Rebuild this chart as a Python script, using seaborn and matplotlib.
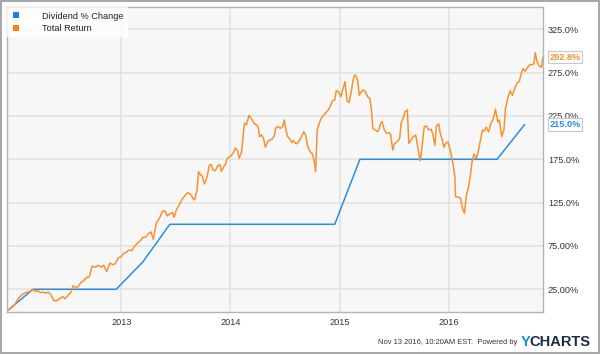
import datetime as dt
import matplotlib
matplotlib.use("Agg")
import matplotlib.pyplot as plt
import pandas as pd
import seaborn as sns
from matplotlib.lines import Line2D

# ---------------- data ----------------
div_years = [2011.956, 2012.194, 2012.954, 2013.200, 2013.445,
             2014.956, 2015.187, 2016.442, 2016.694]
div_values = [0.0, 25.0, 25.0, 56.9, 100.0, 100.0, 175.0, 175.0, 215.0]

tr_years = [
    2011.956, 2011.991, 2012.026, 2012.061, 2012.089, 2012.124, 2012.159, 2012.194,
    2012.218, 2012.236, 2012.264, 2012.289, 2012.313, 2012.334, 2012.359, 2012.383,
    2012.411, 2012.439, 2012.464, 2012.488, 2012.516, 2012.544, 2012.558, 2012.586,
    2012.608, 2012.629, 2012.657, 2012.685, 2012.709, 2012.734, 2012.762, 2012.790,
    2012.814, 2012.839, 2012.867, 2012.895, 2012.923, 2012.944, 2012.972, 2013.000,
    2013.021, 2013.042, 2013.070, 2013.098, 2013.119, 2013.147, 2013.175, 2013.200,
    2013.224, 2013.252, 2013.273, 2013.294, 2013.322, 2013.350, 2013.375, 2013.400,
    2013.421, 2013.445, 2013.470, 2013.484, 2013.505, 2013.533, 2013.561, 2013.589,
    2013.610, 2013.638, 2013.659, 2013.673, 2013.694, 2013.708, 2013.726, 2013.743,
    2013.761, 2013.778, 2013.792, 2013.806, 2013.824, 2013.841, 2013.862, 2013.883,
    2013.904, 2013.918, 2013.936, 2013.953, 2013.974, 2014.006, 2014.031, 2014.045,
    2014.066, 2014.080, 2014.101, 2014.129, 2014.146, 2014.171, 2014.199, 2014.220,
    2014.241, 2014.255, 2014.269, 2014.286, 2014.304, 2014.321, 2014.339, 2014.360,
    2014.381, 2014.402, 2014.416, 2014.437, 2014.458, 2014.479, 2014.493, 2014.507,
    2014.521, 2014.542, 2014.563, 2014.577, 2014.602, 2014.626, 2014.654, 2014.672,
    2014.689, 2014.710, 2014.731, 2014.752, 2014.766, 2014.781, 2014.795, 2014.816,
    2014.837, 2014.865, 2014.893, 2014.914, 2014.935, 2014.956, 2014.970, 2014.991,
    2015.012, 2015.033, 2015.050, 2015.068, 2015.089, 2015.110, 2015.131, 2015.145,
    2015.166, 2015.180, 2015.198, 2015.215, 2015.236, 2015.257, 2015.278, 2015.292,
    2015.306, 2015.327, 2015.348, 2015.362, 2015.376, 2015.390, 2015.411, 2015.432,
    2015.453, 2015.467, 2015.488, 2015.502, 2015.530, 2015.551, 2015.565, 2015.586,
    2015.600, 2015.621, 2015.635, 2015.656, 2015.677, 2015.698, 2015.719, 2015.740,
    2015.758, 2015.776, 2015.797, 2015.818, 2015.839, 2015.853, 2015.874, 2015.888,
    2015.909, 2015.923, 2015.937, 2015.958, 2015.972, 2015.993, 2016.014, 2016.039,
    2016.056, 2016.063, 2016.091, 2016.109, 2016.126, 2016.144, 2016.162, 2016.179,
    2016.197, 2016.214, 2016.232, 2016.253, 2016.267, 2016.288, 2016.309, 2016.323,
    2016.344, 2016.365, 2016.386, 2016.407, 2016.428, 2016.449, 2016.463, 2016.484,
    2016.505, 2016.519, 2016.540, 2016.561, 2016.582, 2016.603, 2016.624, 2016.645,
    2016.666, 2016.680, 2016.701, 2016.722, 2016.743, 2016.764, 2016.778, 2016.792,
    2016.806, 2016.827, 2016.848, 2016.862,
]
tr_values = [
    0.0, 3.1, 6.9, 14.6, 18.4, 21.1, 22.3, 25.0,
    22.3, 23.4, 21.1, 21.9, 20.4, 21.9, 18.4, 11.9,
    11.9, 14.2, 16.5, 14.2, 18.4, 22.3, 28.8, 27.3,
    28.1, 32.7, 35.0, 38.8, 39.6, 51.9, 50.4, 52.7,
    50.4, 52.7, 45.4, 55.0, 53.4, 54.2, 61.1, 62.7,
    66.5, 67.3, 70.4, 69.6, 74.2, 78.1, 81.1, 85.0,
    85.0, 89.6, 91.1, 82.7, 101.9, 106.9, 114.6, 115.7,
    109.6, 111.9, 113.4, 108.1, 116.5, 122.7, 129.6, 133.8,
    136.5, 134.2, 129.6, 128.1, 139.6, 160.7, 156.9, 155.7,
    146.5, 151.1, 158.1, 168.1, 168.8, 162.7, 161.9, 167.3,
    168.8, 161.1, 165.7, 168.8, 176.5, 178.8, 183.4, 188.1,
    185.0, 176.1, 182.7, 216.5, 214.6, 225.7, 220.4, 215.7,
    214.6, 211.9, 201.1, 203.1, 198.8, 188.8, 195.0, 197.3,
    198.1, 201.9, 211.1, 212.7, 210.7, 212.7, 220.4, 210.7,
    201.9, 198.8, 194.2, 196.5, 192.7, 195.0, 201.9, 206.9,
    202.7, 188.8, 183.8, 181.1, 174.2, 160.7, 208.8, 217.3,
    223.4, 227.3, 231.1, 235.7, 242.7, 243.4, 254.2, 252.7,
    247.3, 256.9, 264.6, 242.7, 240.4, 255.7, 270.4, 272.3,
    266.5, 248.8, 252.7, 255.0, 253.4, 247.3, 245.0, 231.9,
    210.7, 208.8, 206.9, 209.6, 216.5, 218.4, 208.8, 205.0,
    205.7, 204.2, 185.7, 192.7, 195.4, 199.2, 217.3, 223.4,
    230.0, 231.9, 193.4, 197.3, 201.1, 203.1, 187.3, 173.4,
    191.9, 212.7, 213.4, 208.8, 209.6, 205.0, 191.1, 213.4,
    215.7, 205.0, 199.2, 188.8, 193.4, 195.0, 185.7, 170.4,
    155.0, 131.9, 131.1, 130.0, 118.4, 112.7, 133.8, 141.5,
    155.0, 172.3, 181.1, 176.1, 181.9, 195.4, 208.8, 207.3,
    211.9, 206.5, 216.5, 221.1, 232.7, 218.0, 220.4, 201.1,
    208.8, 233.4, 245.4, 254.2, 248.8, 256.5, 262.7, 265.0,
    275.0, 279.6, 276.5, 281.1, 284.2, 284.2, 285.0, 298.0,
    287.7, 282.7, 281.1, 292.8,
]

series_names = ["Dividend % Change", "Total Return"]
y_ticks = [25, 75, 125, 175, 225, 275, 325]
y_tick_labels = ["25.00%", "75.00%", "125.0%", "175.0%", "225.0%", "275.0%", "325.0%"]
x_tick_years = [2013, 2014, 2015, 2016]
footer_text = "Nov 13 2016, 10:20AM EST.  Powered by"

BLUE = "#2b8ee0"
ORANGE = "#f7922e"


def to_dt(y):
    year = int(y)
    start = dt.datetime(year, 1, 1)
    end = dt.datetime(year + 1, 1, 1)
    return start + (end - start) * (y - year)


df = pd.concat([
    pd.DataFrame({"date": [to_dt(v) for v in div_years], "value": div_values,
                  "series": series_names[0]}),
    pd.DataFrame({"date": [to_dt(v) for v in tr_years], "value": tr_values,
                  "series": series_names[1]}),
], ignore_index=True)

sns.set_style("white")
plt.rcParams["font.family"] = ["Liberation Sans", "DejaVu Sans"]

fig = plt.figure(figsize=(6.0, 3.54), dpi=100, facecolor="white",
                 edgecolor="#a8a8a8", linewidth=1.5)
ax = fig.add_axes([7 / 600, 1 - 312 / 354, 536 / 600, 305 / 354])
ax.set_facecolor("#f7f7f7")

sns.lineplot(data=df, x="date", y="value", hue="series",
             palette={series_names[0]: BLUE, series_names[1]: ORANGE},
             linewidth=1.1, ax=ax, legend=False, estimator=None, sort=False)

ax.set_xlim(to_dt(tr_years[0]), to_dt(tr_years[-1]))
ax.set_ylim(-1.2, 350.7)

ax.set_xticks([dt.datetime(y, 1, 1) for y in x_tick_years])
ax.set_xticklabels([str(y) for y in x_tick_years])
ax.set_yticks(y_ticks)
ax.set_yticklabels(y_tick_labels)
ax.yaxis.tick_right()
ax.tick_params(axis="both", length=0, labelsize=6.6, colors="#333333")
ax.tick_params(axis="y", pad=3.5)
ax.tick_params(axis="x", pad=4)
ax.grid(True, color="#e2e2e2", linewidth=1.1)
ax.set_axisbelow(True)
ax.set_xlabel("")
ax.set_ylabel("")
for s in ax.spines.values():
    s.set_color("#b4b4b4")
    s.set_linewidth(1.0)

# legend
handles = [Line2D([], [], linestyle="none", marker="s", markersize=4.2,
                  color=c, markeredgewidth=0) for c in ["#1a7fe6", "#ff7f0e"]]
leg = ax.legend(handles, series_names, loc="upper left", bbox_to_anchor=(0, 1),
                borderaxespad=0, frameon=True, fontsize=6.6, handlelength=1.0,
                handletextpad=2.3, borderpad=0.5, labelspacing=0.35,
                fancybox=False)
leg.get_frame().set_facecolor("white")
leg.get_frame().set_alpha(0.8)
leg.get_frame().set_linewidth(0)
for t in leg.get_texts():
    t.set_color("#222222")

# end-value tags
for val, col in [(tr_values[-1], ORANGE), (div_values[-1], BLUE)]:
    ax.annotate(f"{val:.1f}%", xy=(1.0, val), xycoords=("axes fraction", "data"),
                xytext=(4.5, 0), textcoords="offset points", va="center", ha="left",
                fontsize=6.6, color=col, fontweight="bold",
                bbox=dict(boxstyle="square,pad=0.18", fc="white", ec="#c8c8c8", lw=0.8))

# footer
fig.text(517 / 600, 1 - 342 / 354, footer_text, ha="right", va="center",
         fontsize=5.4, color="#333333")
fig.text(521 / 600, 1 - 342 / 354, "Y", ha="left", va="center", fontsize=10.5,
         fontweight="bold", color="#1a8be6")
fig.text(529.5 / 600, 1 - 342 / 354, "CHARTS", ha="left", va="center", fontsize=10.5,
         fontweight="bold", color="#1d2a44")

fig.savefig("out.png", dpi=100, facecolor=fig.get_facecolor(),
            edgecolor=fig.get_edgecolor())
